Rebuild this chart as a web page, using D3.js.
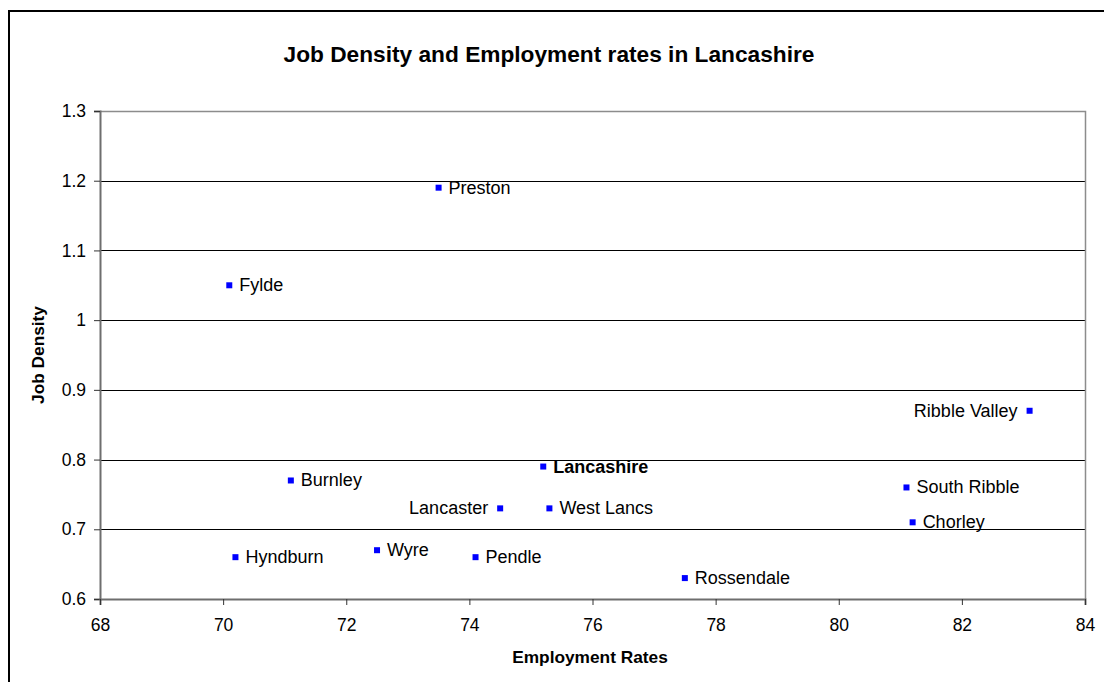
<html>
<head>
  <meta charset="utf-8">
  <title>Job Density and Employment rates in Lancashire</title>
  <style>
    body { margin: 0; background: #fff; font-family: Arial, "Liberation Sans", sans-serif; }
    svg text { font-family: Arial, "Liberation Sans", sans-serif; }
  </style>
  <script src="https://d3js.org/d3.v7.min.js"></script>
</head>
<body>
  <div id="chart"></div>
  <script>
    // Data
    const districts = ["Preston", "Fylde", "Ribble Valley", "Lancashire", "Burnley", "South Ribble",
      "Lancaster", "West Lancs", "Chorley", "Hyndburn", "Wyre", "Pendle", "Rossendale"];
    const employmentRates = [73.5, 70.1, 83.1, 75.2, 71.1, 81.1, 74.5, 75.3, 81.2, 70.2, 72.5, 74.1, 77.5];
    const jobDensity = [1.19, 1.05, 0.87, 0.79, 0.77, 0.76, 0.73, 0.73, 0.71, 0.66, 0.67, 0.66, 0.63];
    const xTicks = [68, 70, 72, 74, 76, 78, 80, 82, 84];
    const yTicks = [0.6, 0.7, 0.8, 0.9, 1, 1.1, 1.2, 1.3];

    // labels drawn on the left of their marker
    const leftLabels = ["Ribble Valley", "Lancaster"];

    const W = 1104, H = 682;
    const margin = { top: 111, right: 19, bottom: 83, left: 100 };
    const width = W - margin.left - margin.right;
    const height = H - margin.top - margin.bottom;

    const svg = d3.select("#chart").append("svg")
      .attr("width", W)
      .attr("height", H);

    // outer frame
    svg.append("rect")
      .attr("x", 9).attr("y", 11)
      .attr("width", 1120).attr("height", 720)
      .attr("fill", "none")
      .attr("stroke", "#000")
      .attr("stroke-width", 2);

    svg.append("text")
      .attr("x", 549).attr("y", 62)
      .attr("text-anchor", "middle")
      .style("font-size", "22.7px")
      .style("font-weight", "bold")
      .text("Job Density and Employment rates in Lancashire");

    const g = svg.append("g")
      .attr("transform", `translate(${margin.left},${margin.top})`);

    const x = d3.scaleLinear().domain([68, 84]).range([0, width]);
    const y = d3.scaleLinear().domain([0.6, 1.3]).range([height, 0]);

    // gridlines
    g.append("g")
      .selectAll("line")
      .data(yTicks.filter(t => t > 0.6 && t < 1.3))
      .join("line")
      .attr("x1", 0).attr("x2", width)
      .attr("y1", d => Math.round(y(d)) + 0.5)
      .attr("y2", d => Math.round(y(d)) + 0.5)
      .attr("stroke", "#000");

    // plot border top + right
    g.append("path")
      .attr("d", `M0,0.5H${width + 0.5}V${height}`)
      .attr("fill", "none")
      .attr("stroke", "#8c8c8c")
      .attr("stroke-width", 1.5);

    // axes
    const yAxis = g.append("g")
      .call(d3.axisLeft(y).tickValues(yTicks).tickSize(6).tickPadding(8)
        .tickFormat(d => d === 1 ? "1" : d3.format(".1f")(d)));
    const xAxis = g.append("g")
      .attr("transform", `translate(0,${height})`)
      .call(d3.axisBottom(x).tickValues(xTicks).tickSize(6).tickPadding(14));

    [yAxis, xAxis].forEach(a => {
      a.select(".domain").attr("stroke", "#6e6e6e").attr("stroke-width", 2);
      a.selectAll(".tick line").attr("stroke", "#333");
      a.selectAll(".tick text")
        .style("font-size", "17.5px")
        .attr("fill", "#000");
    });

    // axis titles
    svg.append("text")
      .attr("x", 590).attr("y", 663)
      .attr("text-anchor", "middle")
      .style("font-size", "17.3px")
      .style("font-weight", "bold")
      .text("Employment Rates");

    svg.append("text")
      .attr("transform", `translate(44,${margin.top + height / 2}) rotate(-90)`)
      .attr("text-anchor", "middle")
      .style("font-size", "17.3px")
      .style("font-weight", "bold")
      .text("Job Density");

    // points
    const points = districts.map((name, i) => ({
      name, rate: employmentRates[i], density: jobDensity[i]
    }));

    g.append("g")
      .selectAll("rect")
      .data(points)
      .join("rect")
      .attr("x", d => x(d.rate) - 3)
      .attr("y", d => y(d.density) - 3)
      .attr("width", 6)
      .attr("height", 6)
      .attr("fill", "#0000ff");

    g.append("g")
      .selectAll("text")
      .data(points)
      .join("text")
      .attr("x", d => leftLabels.includes(d.name) ? x(d.rate) - 12 : x(d.rate) + 10)
      .attr("y", d => y(d.density) + 6)
      .attr("text-anchor", d => leftLabels.includes(d.name) ? "end" : "start")
      .style("font-size", "18px")
      .style("font-weight", d => d.name === "Lancashire" ? "bold" : "normal")
      .text(d => d.name);
  </script>
</body>
</html>
